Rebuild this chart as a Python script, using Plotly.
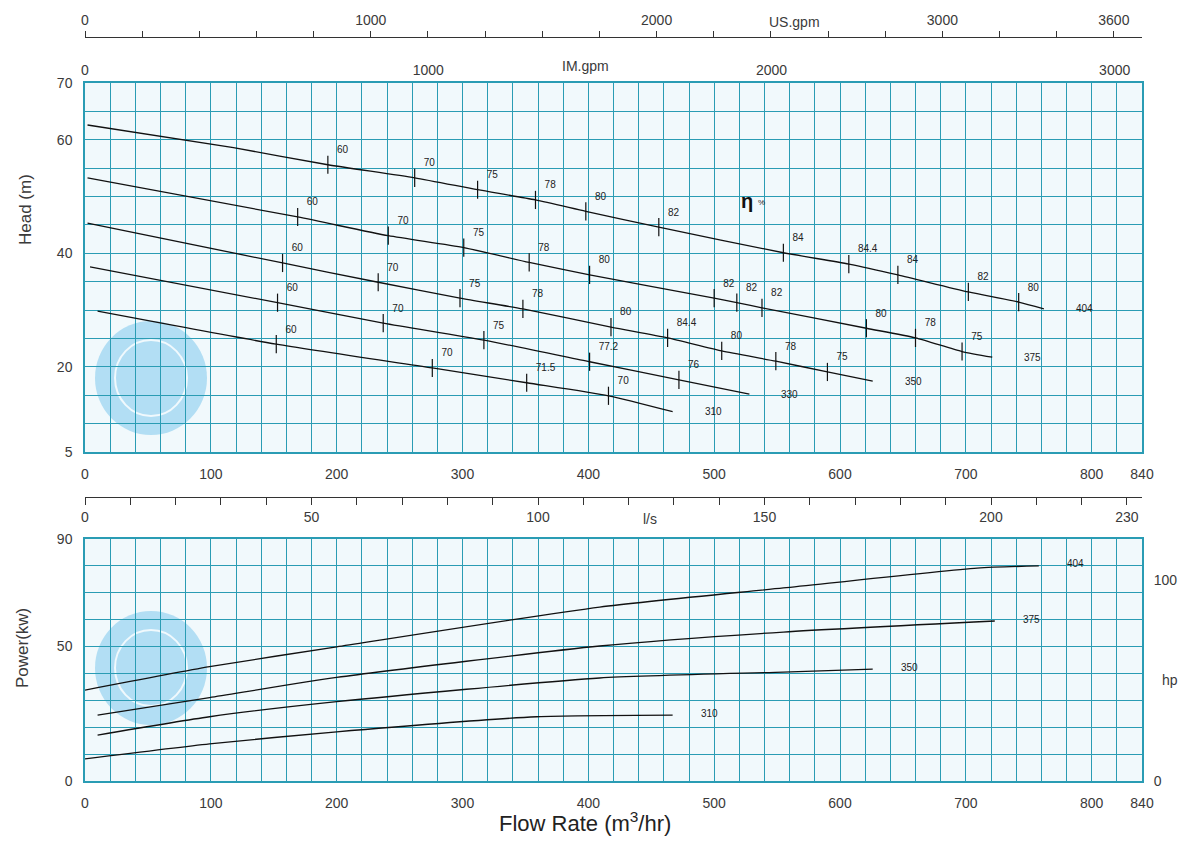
import plotly.graph_objects as go

# ---------------- data ----------------
# Head curves (flow m3/hr, head m) per impeller diameter
q_404 = [2, 118, 193, 262, 312, 358, 398, 456, 555, 607, 646, 702, 742, 762]
h_404 = [62.6, 58.6, 55.6, 53.3, 51.2, 49.4, 47.4, 44.6, 40.1, 38.1, 36.2, 33.2, 31.4, 30.2]
q_375 = [2, 169, 241, 301, 353, 401, 500, 518, 538, 621, 660, 697, 721]
h_375 = [53.3, 46.4, 43.1, 41.0, 38.4, 36.2, 32.1, 31.3, 30.4, 26.8, 25.1, 22.7, 21.7]
q_350 = [2, 157, 233, 298, 348, 418, 463, 506, 549, 590, 626]
h_350 = [45.3, 38.3, 34.9, 32.1, 30.2, 27.0, 25.1, 22.8, 21.0, 19.1, 17.5]
q_330 = [4, 153, 237, 317, 401, 472, 528]
h_330 = [37.6, 31.3, 27.7, 24.7, 20.9, 17.7, 15.2]
q_310 = [10, 152, 276, 351, 416, 467]
h_310 = [29.8, 24.0, 19.8, 17.2, 14.9, 12.1]

# Efficiency marks on each head curve
eq_404 = [193, 262, 312, 358, 398, 456, 555, 607, 646, 702, 742]
eh_404 = [55.6, 53.3, 51.2, 49.4, 47.4, 44.6, 40.1, 38.1, 36.2, 33.2, 31.4]
el_404 = ["60", "70", "75", "78", "80", "82", "84", "84.4", "84", "82", "80"]
eq_375 = [169, 241, 301, 353, 401, 500, 518, 538, 621, 660, 697]
eh_375 = [46.4, 43.1, 41.0, 38.4, 36.2, 32.1, 31.3, 30.4, 26.8, 25.1, 22.7]
el_375 = ["60", "70", "75", "78", "80", "82", "82", "82", "80", "78", "75"]
eq_350 = [157, 233, 298, 348, 418, 463, 506, 549, 590]
eh_350 = [38.3, 34.9, 32.1, 30.2, 27.0, 25.1, 22.8, 21.0, 19.1]
el_350 = ["60", "70", "75", "78", "80", "84.4", "80", "78", "75"]
eq_330 = [153, 237, 317, 401, 472]
eh_330 = [31.3, 27.7, 24.7, 20.9, 17.7]
el_330 = ["60", "70", "75", "77.2", "76"]
eq_310 = [152, 276, 351, 416]
eh_310 = [24.0, 19.8, 17.2, 14.9]
el_310 = ["60", "70", "71.5", "70"]

# Power curves (flow m3/hr, power kW)
pq_404 = [0, 99, 200, 409, 555, 709, 758]
pw_404 = [33.8, 42.5, 49.9, 64.7, 71.8, 79.2, 80.0]
pq_375 = [10, 99, 200, 409, 555, 723]
pw_375 = [24.5, 31.0, 38.5, 50.2, 55.4, 59.5]
pq_350 = [10, 99, 200, 409, 555, 626]
pw_350 = [17.1, 23.9, 29.5, 38.3, 40.5, 41.6]
pq_310 = [0, 99, 200, 359, 467]
pw_310 = [8.2, 13.8, 18.3, 23.9, 24.5]

curve_names = ["404", "375", "350", "330", "310"]

# Axis tick values / labels
flow_ticks = list(range(0, 841, 20))
flow_labels = ["0", "100", "200", "300", "400", "500", "600", "700", "800", "840"]
head_ticks = list(range(5, 71, 5))
head_labels = ["5", "20", "40", "60", "70"]
power_ticks = list(range(0, 91, 10))
power_labels = ["0", "50", "90"]
usgpm_ticks = list(range(0, 3601, 200))
usgpm_labels = ["0", "1000", "2000", "3000", "3600"]
imgpm_ticks = [0, 1000, 2000, 3000]
imgpm_labels = ["0", "1000", "2000", "3000"]
ls_ticks = list(range(0, 231, 10))
ls_labels = ["0", "50", "100", "150", "200", "230"]
hp_ticks = [0, 100]
hp_labels = ["0", "100"]

# unit conversions
US_GPM_PER_M3H = 4.402868
IM_GPM_PER_M3H = 3.666154
LS_PER_M3H = 1 / 3.6
KW_PER_HP = 0.745700

# ---------------- figure ----------------
W, H = 1196, 842
ML, MR = 85, 54
PW = W - ML - MR
GRID = "#2a9cb4"
BG = "#f1f9fc"
TXT = "#3a3a3a"
FONT = "Liberation Sans, Arial, sans-serif"


def py(p):  # pixel y -> paper
    return 1 - p / H


def px(p):  # pixel x -> paper
    return (p - ML) / PW


fig = go.Figure()

head_sets = [(q_404, h_404, eq_404, eh_404, el_404),
             (q_375, h_375, eq_375, eh_375, el_375),
             (q_350, h_350, eq_350, eh_350, el_350),
             (q_330, h_330, eq_330, eh_330, el_330),
             (q_310, h_310, eq_310, eh_310, el_310)]

for name, (q, h, eq, eh, el) in zip(curve_names, head_sets):
    fig.add_trace(go.Scatter(x=q, y=h, mode="lines",
                             line=dict(color="#111", width=1.3, shape="spline", smoothing=0.6),
                             xaxis="x", yaxis="y", showlegend=False, hoverinfo="skip"))
    fig.add_trace(go.Scatter(x=eq, y=eh, mode="markers+text", text=el, textposition="top right",
                             textfont=dict(size=10, color="#222", family=FONT),
                             marker=dict(symbol="line-ns-open", size=13, color="#111",
                                         line=dict(color="#111", width=1.2)),
                             xaxis="x", yaxis="y", showlegend=False, hoverinfo="skip"))
    fig.add_annotation(x=q[-1], y=h[-1], xref="x", yref="y", text=name, showarrow=False,
                       xanchor="left", yanchor="middle", xshift=30,
                       font=dict(size=10, color="#222", family=FONT))

power_sets = [("404", pq_404, pw_404), ("375", pq_375, pw_375),
              ("350", pq_350, pw_350), ("310", pq_310, pw_310)]
for name, q, p in power_sets:
    fig.add_trace(go.Scatter(x=q, y=p, mode="lines",
                             line=dict(color="#111", width=1.3, shape="spline", smoothing=0.6),
                             xaxis="x2", yaxis="y2", showlegend=False, hoverinfo="skip"))
    fig.add_annotation(x=q[-1], y=p[-1], xref="x2", yref="y2", text=name, showarrow=False,
                       xanchor="left", yanchor="middle", xshift=26, yshift=2,
                       font=dict(size=10, color="#222", family=FONT))

# invisible traces so that the auxiliary axes are drawn
for xa, ya in [("x3", "y"), ("x4", "y"), ("x5", "y"), ("x2", "y3")]:
    fig.add_trace(go.Scatter(x=[0], y=[0 if ya == "y3" else 5], mode="markers",
                             marker=dict(opacity=0), xaxis=xa, yaxis=ya,
                             showlegend=False, hoverinfo="skip"))

top_dom = [py(452), py(83)]
bot_dom = [py(781), py(539)]


def sel_text(ticks, labels):
    return [str(v) if str(v) in labels else "" for v in ticks]


tick_font = dict(size=14, color=TXT, family=FONT)
grid_common = dict(showgrid=True, gridcolor=GRID, gridwidth=1.3, zeroline=False,
                   showline=True, linecolor=GRID, linewidth=1.5, mirror=True,
                   ticks="outside", ticklen=8, tickcolor="rgba(0,0,0,0)",
                   tickfont=tick_font)

fig.update_layout(
    width=W, height=H, autosize=False,
    margin=dict(l=ML, r=MR, t=0, b=0, autoexpand=False),
    paper_bgcolor="white", plot_bgcolor=BG,
    xaxis=dict(domain=[0, 1], anchor="y", range=[0, 840], tickmode="array",
               tickvals=flow_ticks, ticktext=sel_text(flow_ticks, flow_labels), **grid_common),
    yaxis=dict(domain=top_dom, anchor="x", range=[5, 70], tickmode="array",
               tickvals=head_ticks, ticktext=sel_text(head_ticks, head_labels), **grid_common),
    xaxis2=dict(domain=[0, 1], anchor="y2", range=[0, 840], tickmode="array",
                tickvals=flow_ticks, ticktext=sel_text(flow_ticks, flow_labels), **grid_common),
    yaxis2=dict(domain=bot_dom, anchor="x2", range=[0, 90], tickmode="array",
                tickvals=power_ticks, ticktext=sel_text(power_ticks, power_labels), **grid_common),
    yaxis3=dict(overlaying="y2", anchor="x2", side="right", range=[0, 90 / KW_PER_HP],
                tickmode="array", tickvals=hp_ticks, ticktext=hp_labels, showgrid=False,
                zeroline=False, ticks="outside", ticklen=8, tickcolor="rgba(0,0,0,0)",
                tickfont=tick_font),
    xaxis3=dict(overlaying="x", anchor="free", position=py(37), side="top",
                range=[0, 840 * US_GPM_PER_M3H], tickmode="array", tickvals=usgpm_ticks,
                ticktext=sel_text(usgpm_ticks, usgpm_labels), showgrid=False, zeroline=False,
                showline=True, linecolor="#333", linewidth=1.3, ticks="outside", ticklen=6,
                tickcolor="#333", tickwidth=1.2, tickfont=tick_font),
    xaxis4=dict(overlaying="x", anchor="free", position=py(78), side="top",
                range=[0, 840 * IM_GPM_PER_M3H], tickmode="array", tickvals=imgpm_ticks,
                ticktext=imgpm_labels, showgrid=False, zeroline=False, showline=False, ticks="",
                tickfont=tick_font),
    xaxis5=dict(overlaying="x", anchor="free", position=py(497), side="bottom",
                range=[0, 840 * LS_PER_M3H], tickmode="array", tickvals=ls_ticks,
                ticktext=sel_text(ls_ticks, ls_labels), showgrid=False, zeroline=False,
                showline=True, linecolor="#333", linewidth=1.3, ticks="outside", ticklen=7,
                tickcolor="#333", tickwidth=1.2, tickfont=tick_font),
)

# faint round logo marks seen behind both plots
for cy in (378, 668):
    fig.add_shape(type="circle", xref="paper", yref="paper", layer="below",
                  x0=px(95), x1=px(207), y0=py(cy + 57), y1=py(cy - 57),
                  fillcolor="rgba(125,200,236,0.55)", line=dict(width=0))
    fig.add_shape(type="circle", xref="paper", yref="paper", layer="below",
                  x0=px(115), x1=px(187), y0=py(cy + 38), y1=py(cy - 38),
                  fillcolor="rgba(0,0,0,0)", line=dict(color="rgba(255,255,255,0.8)", width=2))


def note(x, y, text, xref="paper", yref="paper", size=14, angle=0, color=TXT):
    fig.add_annotation(x=x, y=y, xref=xref, yref=yref, text=text, showarrow=False,
                       xanchor="center", yanchor="middle", textangle=angle,
                       font=dict(size=size, color=color, family=FONT))


note(564, py(22), "US.gpm", xref="x")
note(398, py(66), "IM.gpm", xref="x")
note(449, py(519), "l/s", xref="x")
note(px(26), py(210), "Head (m)", size=17, angle=-90)
note(px(22), py(648), "Power(kw)", size=17, angle=-90)
note(px(1170), py(680), "hp")
note(px(585), py(822), "Flow Rate (m<sup>3</sup>/hr)", size=22, color="#222")
note(526, 49.2, "<b>η</b>", xref="x", yref="y", size=20, color="#111")
note(538, 48.9, "%", xref="x", yref="y", size=8, color="#222")

fig.write_html("out.html", config={"displayModeBar": False},
               post_script="document.body.style.margin='0';document.body.style.padding='0';")
